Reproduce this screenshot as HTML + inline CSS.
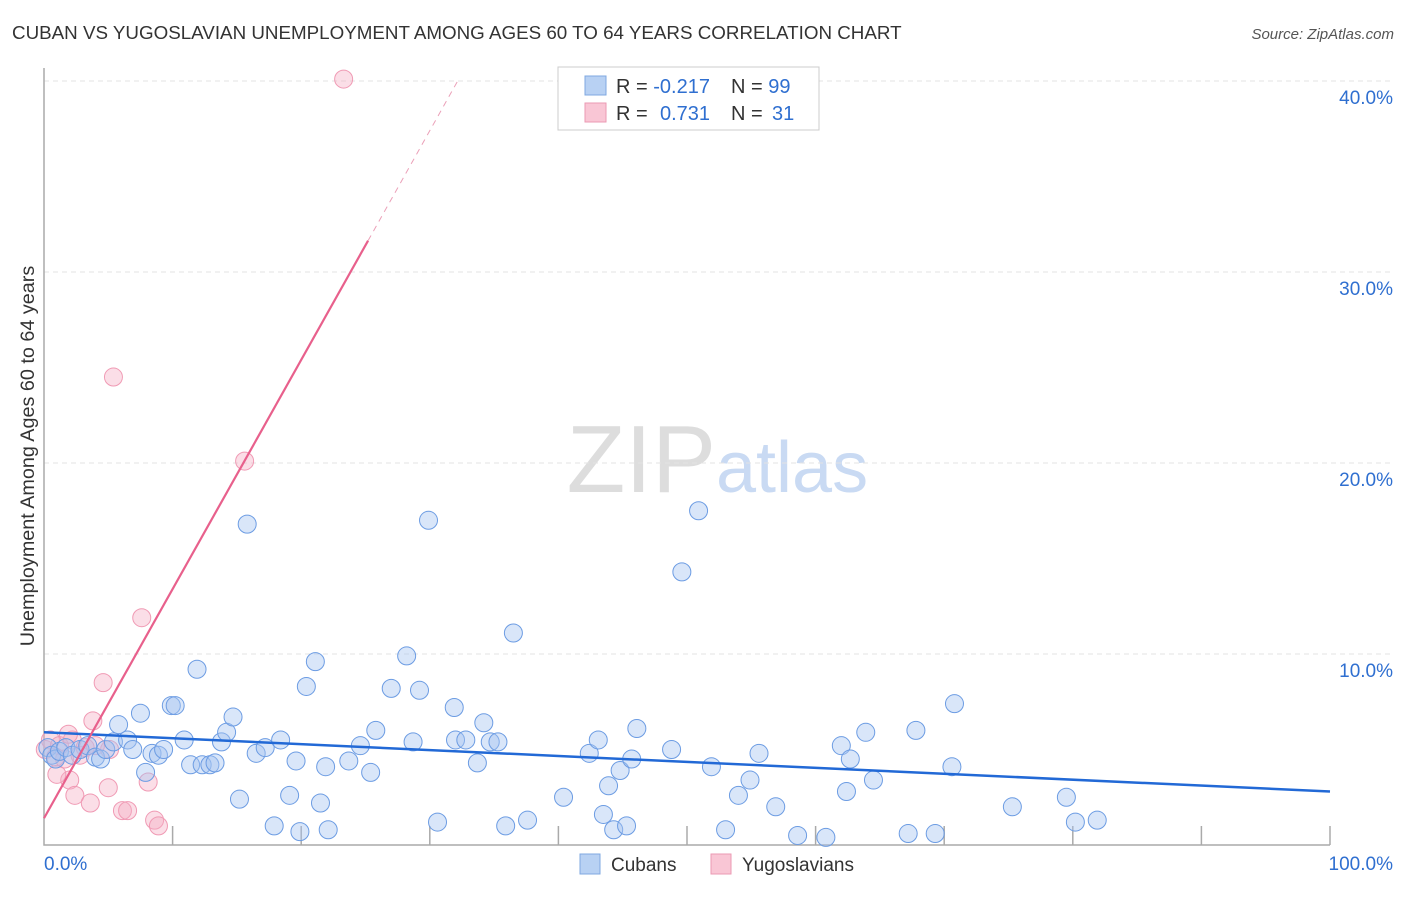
<!DOCTYPE html>
<html><head><meta charset="utf-8"><style>
body{margin:0;background:#fff;font-family:"Liberation Sans",sans-serif}
svg text{font-family:"Liberation Sans",sans-serif}
</style></head><body>
<svg width="1406" height="892" xmlns="http://www.w3.org/2000/svg">
<text x="12" y="39" font-size="18.8" fill="#333">CUBAN VS YUGOSLAVIAN UNEMPLOYMENT AMONG AGES 60 TO 64 YEARS CORRELATION CHART</text>
<text x="1394" y="39" font-size="15" fill="#555" font-style="italic" text-anchor="end">Source: ZipAtlas.com</text>
<text x="716" y="492" font-size="96" fill="#ddd" text-anchor="end" font-family="Liberation Serif">ZIP</text>
<text x="716" y="492" font-size="72" fill="#c9daf3">atlas</text>
<text transform="translate(34,456) rotate(-90)" font-size="19.8" fill="#333" text-anchor="middle">Unemployment Among Ages 60 to 64 years</text>
<g id="grid"></g><g id="pts"></g><g id="lines"></g>
<g>
<rect x="558" y="67" width="261" height="63" fill="#fff" stroke="#ccc"/>
<rect x="585" y="76" width="21" height="19" fill="#b8d1f3" stroke="#7fa8e0"/>
<rect x="585" y="103" width="21" height="19" fill="#f9c6d5" stroke="#eb9ab3"/>
<text x="616" y="93" font-size="20" fill="#333">R = <tspan fill="#2f6fd0">-0.217</tspan></text>
<text x="731" y="93" font-size="20" fill="#333">N = <tspan fill="#2f6fd0">99</tspan></text>
<text x="616" y="120" font-size="20" fill="#333">R = <tspan fill="#2f6fd0" x="660">0.731</tspan></text>
<text x="731" y="120" font-size="20" fill="#333">N = <tspan fill="#2f6fd0" x="772">31</tspan></text>
</g>
<g>
<rect x="580" y="854" width="20" height="20" fill="#b8d1f3" stroke="#7fa8e0"/>
<text x="611" y="871" font-size="19" fill="#333">Cubans</text>
<rect x="711" y="854" width="20" height="20" fill="#f9c6d5" stroke="#eb9ab3"/>
<text x="742" y="871" font-size="19" fill="#333">Yugoslavians</text>
</g>
<text x="44" y="870" font-size="19" fill="#2f6fd0">0.0%</text>
<text x="1393" y="870" font-size="19" fill="#2f6fd0" text-anchor="end">100.0%</text>
</svg>
<script>
const yTicks=[10,20,30,40];
const yTickLabels=["10.0%","20.0%","30.0%","40.0%"];
const cubanX=[0.3,0.6,0.9,1.2,1.7,2.2,2.8,3.4,4.0,4.4,4.8,5.4,5.8,6.5,6.9,7.5,7.9,8.4,8.9,9.3,9.9,10.2,10.9,11.4,11.9,12.3,12.9,13.3,13.8,14.2,14.7,15.2,15.8,16.5,17.2,17.9,18.4,19.1,19.6,19.9,20.4,21.1,21.5,21.9,22.1,23.7,24.6,25.4,25.8,27.0,28.2,28.7,29.2,29.9,30.6,31.9,32.0,32.8,33.7,34.2,34.7,35.3,35.9,36.5,37.6,40.4,42.4,43.1,43.5,43.9,44.3,44.8,45.3,45.7,46.1,48.8,49.6,50.9,51.9,53.0,54.0,54.9,55.6,56.9,58.6,60.8,62.0,62.4,62.7,63.9,64.5,67.2,67.8,69.3,70.6,70.8,75.3,79.5,80.2,81.9];
const cubanY=[5.1,4.7,4.5,4.9,5.1,4.7,5.0,5.2,4.6,4.5,5.0,5.4,6.3,5.5,5.0,6.9,3.8,4.8,4.7,5.0,7.3,7.3,5.5,4.2,9.2,4.2,4.2,4.3,5.4,5.9,6.7,2.4,16.8,4.8,5.1,1.0,5.5,2.6,4.4,0.7,8.3,9.6,2.2,4.1,0.8,4.4,5.2,3.8,6.0,8.2,9.9,5.4,8.1,17.0,1.2,7.2,5.5,5.5,4.3,6.4,5.4,5.4,1.0,11.1,1.3,2.5,4.8,5.5,1.6,3.1,0.8,3.9,1.0,4.5,6.1,5.0,14.3,17.5,4.1,0.8,2.6,3.4,4.8,2.0,0.5,0.4,5.2,2.8,4.5,5.9,3.4,0.6,6.0,0.6,4.1,7.4,2.0,2.5,1.2,1.3];
const yugoX=[0.1,0.5,0.9,1.2,1.6,2.0,2.2,2.4,2.8,3.2,3.6,3.8,4.6,5.0,5.1,5.4,6.1,6.5,7.6,8.1,8.6,8.9,15.6,23.3,1.0,4.0,1.9];
const yugoY=[5.0,5.5,4.6,5.2,4.5,3.4,5.5,2.6,4.7,5.1,2.2,6.5,8.5,3.0,5.0,24.5,1.8,1.8,11.9,3.3,1.3,1.0,20.1,40.1,3.7,5.2,5.8];
const cubanTrend=[5.9,2.8];
const yugoTrend=[1.4,1.2];
const X=v=>44+v*12.86, Y=v=>845-v*19.1;
const NS="http://www.w3.org/2000/svg";
function mk(t,a,p){const e=document.createElementNS(NS,t);for(const k in a)e.setAttribute(k,a[k]);p.appendChild(e);return e;}
const grid=document.getElementById('grid');
yTicks.forEach((t,i)=>{
 const l=mk('line',{x1:44,x2:1393,y1:Y(t),y2:Y(t),stroke:'#e3e3e3','stroke-dasharray':'5,4'},grid);
 
 
 const tx=mk('text',{x:1393,y:Y(t)+23,'font-size':19,fill:'#2f6fd0','text-anchor':'end'},grid);
 tx.textContent=yTickLabels[i];
 
 
});
const ax=mk('path',{d:'M44,68V845H1330',fill:'none',stroke:'#aaa','stroke-width':1.5},grid);


for(let i=1;i<=10;i++){const tk=mk('line',{x1:X(i*10),x2:X(i*10),y1:826,y2:845,stroke:'#aaa','stroke-width':1.5},grid);
 
 }
const pts=document.getElementById('pts');
yugoX.forEach((x,i)=>{const c=mk('circle',{cx:X(x),cy:Y(yugoY[i]),r:9,fill:'rgba(246,172,195,0.4)',stroke:'#f09ab4','stroke-width':1},pts);
 
 });
cubanX.forEach((x,i)=>{const c=mk('circle',{cx:X(x),cy:Y(cubanY[i]),r:9,fill:'rgba(165,195,240,0.42)',stroke:'#6c9ce3','stroke-width':1},pts);
 
 });
const ln=document.getElementById('lines');
const b=mk('line',{x1:X(0),y1:Y(cubanTrend[0]),x2:X(100),y2:Y(cubanTrend[1]),stroke:'#2269d6','stroke-width':2.5},ln);


const yt=x=>yugoTrend[0]+yugoTrend[1]*x;
const p=mk('line',{x1:X(0),y1:Y(yt(0)),x2:X(25.2),y2:Y(yt(25.2)),stroke:'#e8608c','stroke-width':2.2},ln);


const pd=mk('line',{x1:X(25.2),y1:Y(yt(25.2)),x2:X(32.2),y2:Y(yt(32.2)),stroke:'#eba0b8','stroke-width':1,'stroke-dasharray':'6,5'},ln);


</script>
</body></html>
